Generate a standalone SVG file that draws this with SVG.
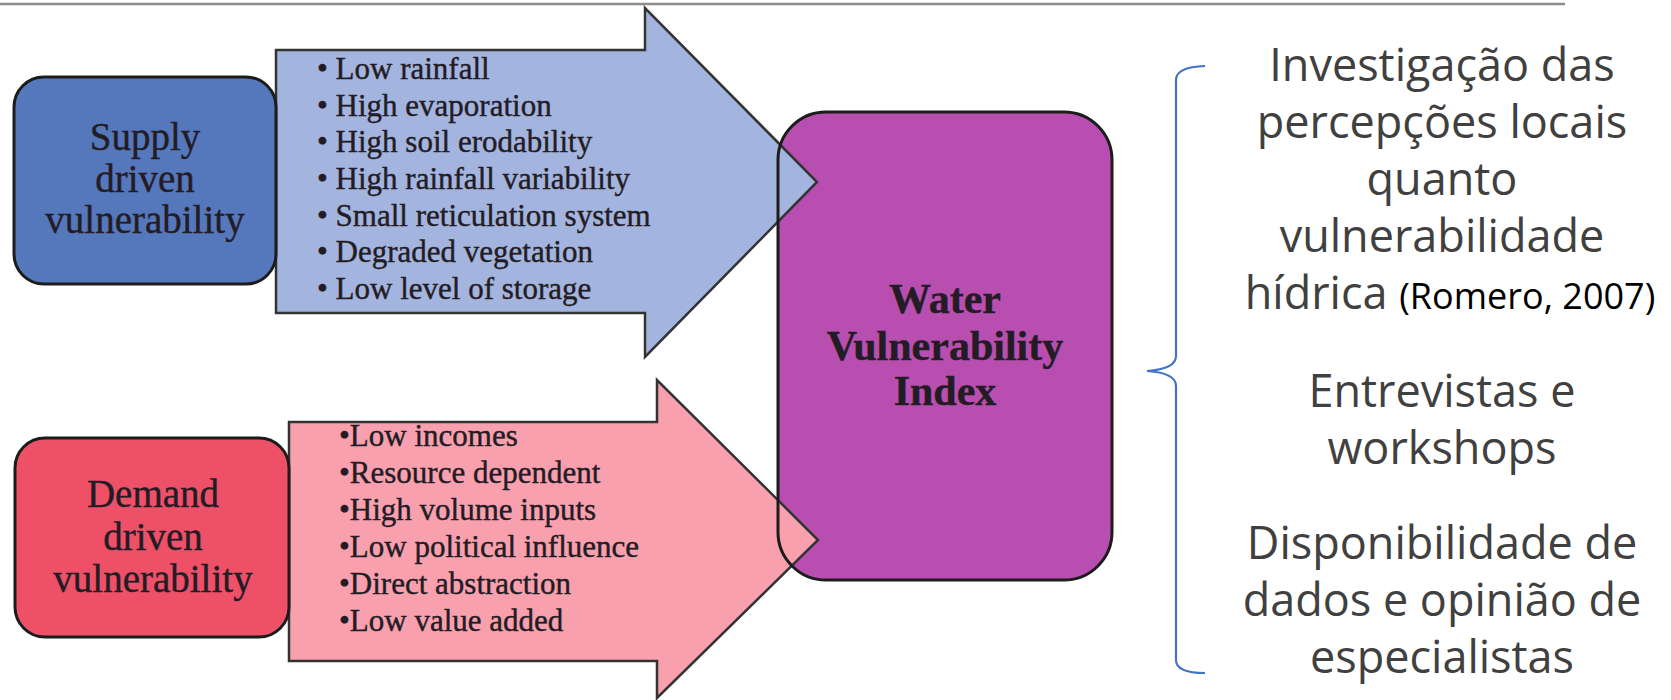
<svg xmlns="http://www.w3.org/2000/svg" width="1671" height="700" viewBox="0 0 1671 700">
  <style>
    .box { stroke: #1c1c1c; stroke-width: 3; }
    .arrow { stroke: #333333; stroke-width: 2.5; stroke-linejoin: miter; }
    .serif { font-family: "Liberation Serif", "Times New Roman", serif; fill: #231c24; stroke: #231c24; stroke-width: 0.4; }
    .lbl { font-size: 39px; text-anchor: middle; }
    .item { font-size: 31px; }
    .wvi { font-size: 42px; font-weight: bold; text-anchor: middle; }
    .pt { font-family: "Open Sans", "Noto Sans", sans-serif; fill: #404040; font-size: 45px; text-anchor: middle; }
    .ref { font-size: 36px; fill: #000000; }
    .brace { fill: none; stroke: #4472C4; stroke-width: 2.2; }
  </style>
  <rect width="1671" height="700" fill="#ffffff"/>
  <line x1="0" y1="4" x2="1565" y2="4" stroke="#8c8c8c" stroke-width="2.5"/>

  <g id="wvi-fill">
    <rect x="778" y="112" width="334" height="468" rx="48" ry="48" fill="#B84FB0"/>
  </g>

  <g id="supply-arrow">
    <polygon class="arrow" points="276,50 645,50 645,8 817,182 645,357 645,313 276,313" fill="#A3B4DE"/>
    <text class="serif item" x="317" y="79">• Low rainfall</text>
    <text class="serif item" x="317" y="116">• High evaporation</text>
    <text class="serif item" x="317" y="152">• High soil erodability</text>
    <text class="serif item" x="317" y="189">• High rainfall variability</text>
    <text class="serif item" x="317" y="226">• Small reticulation system</text>
    <text class="serif item" x="317" y="262">• Degraded vegetation</text>
    <text class="serif item" x="317" y="299">• Low level of storage</text>
  </g>

  <g id="demand-arrow">
    <polygon class="arrow" points="289,422 657,422 657,380 818,540 657,698 657,661 289,661" fill="#F9A0AE"/>
    <text class="serif item" x="339" y="446">•Low incomes</text>
    <text class="serif item" x="339" y="483">•Resource dependent</text>
    <text class="serif item" x="339" y="520">•High volume inputs</text>
    <text class="serif item" x="339" y="557">•Low political influence</text>
    <text class="serif item" x="339" y="594">•Direct abstraction</text>
    <text class="serif item" x="339" y="631">•Low value added</text>
  </g>

  <g id="supply-box">
    <rect class="box" x="14" y="77" width="262" height="207" rx="30" ry="30" fill="#5577BB"/>
    <text class="serif lbl" x="145" y="150">Supply</text>
    <text class="serif lbl" x="145" y="192">driven</text>
    <text class="serif lbl" x="145" y="233">vulnerability</text>
  </g>

  <g id="demand-box">
    <rect class="box" x="15" y="438" width="274" height="199" rx="30" ry="30" fill="#EE5068"/>
    <text class="serif lbl" x="153" y="507">Demand</text>
    <text class="serif lbl" x="153" y="550">driven</text>
    <text class="serif lbl" x="153" y="592">vulnerability</text>
  </g>

  <g id="wvi">
    <rect class="box" x="778" y="112" width="334" height="468" rx="48" ry="48" fill="none"/>
    <text class="serif wvi" x="945" y="313">Water</text>
    <text class="serif wvi" x="945" y="360">Vulnerability</text>
    <text class="serif wvi" x="945" y="405">Index</text>
  </g>

  <g id="connectors">
    <path class="brace" d="M1205,66 Q1176,67 1176,80 L1176,356 Q1176,369 1147,371 Q1176,373 1176,386 L1176,660 Q1176,673 1205,673"/>
  </g>

  <g id="methods">
    <text class="pt" x="1442" y="81">Investigação das</text>
    <text class="pt" x="1442" y="138">percepções locais</text>
    <text class="pt" x="1442" y="195">quanto</text>
    <text class="pt" x="1442" y="252">vulnerabilidade</text>
    <text class="pt" x="1450" y="309">hídrica <tspan class="ref">(Romero, 2007)</tspan></text>
    <text class="pt" x="1442" y="407">Entrevistas e</text>
    <text class="pt" x="1442" y="464">workshops</text>
    <text class="pt" x="1442" y="559">Disponibilidade de</text>
    <text class="pt" x="1442" y="616">dados e opinião de</text>
    <text class="pt" x="1442" y="673">especialistas</text>
  </g>
</svg>
